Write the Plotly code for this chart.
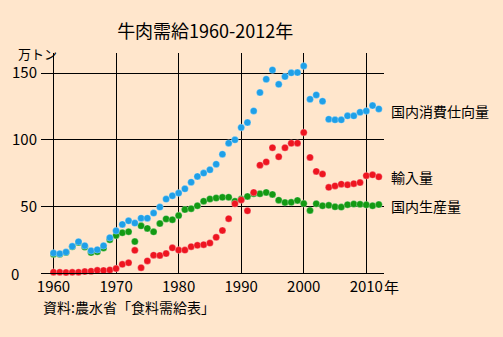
import plotly.graph_objects as go

years = list(range(1960, 2013))

# 国内消費仕向量 (万トン)
consumption = [15.0, 14.5, 15.7, 20.0, 23.5, 20.5, 16.7, 17.5, 20.5, 26.5,
               31.7, 36.5, 39.2, 37.5, 41.2, 41.2, 45.0, 49.5, 55.5, 58.0,
               60.0, 63.2, 68.2, 72.5, 75.0, 77.5, 81.7, 89.2, 97.5, 100.0,
               109.2, 113.0, 121.7, 135.5, 145.5, 152.5, 141.7, 147.5, 150.3, 150.5,
               155.5, 130.5, 133.7, 129.0, 115.5, 115.0, 115.0, 118.0, 118.0, 120.7,
               121.7, 125.7, 123.2]

# 輸入量 (万トン)
imports = [0.6, 0.6, 0.4, 0.5, 0.6, 1.1, 1.4, 2.0, 1.9, 2.3,
           3.3, 6.5, 7.7, 17.0, 4.0, 9.1, 13.4, 13.2, 14.6, 18.9,
           17.2, 17.2, 19.8, 20.8, 21.3, 22.5, 26.8, 31.9, 40.8, 52.0,
           54.9, 46.7, 60.5, 81.0, 83.4, 94.1, 87.3, 94.1, 97.4, 97.5,
           105.5, 86.8, 76.3, 74.3, 64.3, 65.4, 66.7, 66.2, 67.1, 67.9,
           73.1, 73.7, 72.2]

# 国内生産量 (万トン)
production = [14.1, 14.1, 15.3, 19.8, 22.9, 19.6, 15.3, 16.0, 18.8, 25.0,
              28.2, 30.2, 31.0, 23.6, 35.4, 33.5, 30.9, 37.1, 40.6, 40.0,
              43.1, 47.6, 48.3, 50.5, 53.9, 55.6, 56.3, 56.8, 56.9, 53.9,
              55.5, 57.5, 59.6, 59.5, 60.5, 59.0, 54.7, 52.9, 53.1, 54.5,
              52.1, 47.0, 52.0, 50.5, 50.8, 49.7, 49.5, 51.3, 51.8, 51.6,
              51.2, 50.5, 51.4]

series_names = ["国内生産量", "輸入量", "国内消費仕向量"]
x_tick_vals = [1960, 1970, 1980, 1990, 2000, 2010]
x_tick_text = ["1960", "1970", "1980", "1990", "2000", "2010"]
y_tick_vals = [0, 50, 100, 150]
y_tick_text = ["", "50", "100", "150"]

FONT = "Noto Sans CJK JP"
BG = "#FFE6CC"
GREEN = "#139A13"
RED = "#EE1520"
BLUE = "#1FA0E8"

label_yshift = {"国内消費仕向量": -2, "輸入量": 0, "国内生産量": -1}

fig = go.Figure()
for name, vals, col in [(series_names[0], production, GREEN),
                        (series_names[1], imports, RED),
                        (series_names[2], consumption, BLUE)]:
    fig.add_trace(go.Scatter(
        x=years, y=vals, mode="markers", name=name,
        marker=dict(color=col, size=7, line=dict(width=0.8, color="rgba(255,255,255,0.35)")),
        showlegend=False, cliponaxis=False))
    fig.add_annotation(x=years[-1], y=vals[-1], xref="x", yref="y",
                       text=name, showarrow=False, xanchor="left",
                       xshift=10, yshift=label_yshift[name],
                       font=dict(family=FONT, size=14, color="black"))

fig.update_layout(
    width=503, height=337,
    margin=dict(l=38, r=119, t=53, b=64),
    paper_bgcolor=BG, plot_bgcolor=BG,
    title=dict(text="牛肉需給1960-2012年", x=0.408, xanchor="center", y=0.905, yanchor="middle",
               font=dict(family=FONT, size=18, color="black")),
    xaxis=dict(range=[1958.0, 2012.83], tickvals=x_tick_vals, ticktext=x_tick_text,
               showgrid=True, gridcolor="black", gridwidth=1, zeroline=False,
               showline=True, linecolor="black", linewidth=1, ticks="",
               tickfont=dict(family=FONT, size=15, color="black"), fixedrange=True),
    yaxis=dict(range=[0, 165.2], tickvals=y_tick_vals, ticktext=y_tick_text,
               showgrid=True, gridcolor="black", gridwidth=1, zeroline=False,
               showline=False, ticks="", ticklabelstandoff=3,
               tickfont=dict(family=FONT, size=15, color="black"), fixedrange=True),
    showlegend=False,
)

fig.add_annotation(x=0, y=0, xref="paper", yref="y", text="0", showarrow=False,
                   xanchor="right", xshift=-20, font=dict(family=FONT, size=15, color="black"))
fig.add_annotation(x=0, y=1, xref="paper", yref="paper", text="万トン", showarrow=False,
                   xanchor="left", yanchor="middle", xshift=-25, yshift=0,
                   font=dict(family=FONT, size=13, color="black"))
fig.add_annotation(x=2012.5, y=-0.062, xref="x", yref="paper", text="年", showarrow=False,
                   xanchor="left", yanchor="middle", font=dict(family=FONT, size=15, color="black"))
fig.add_annotation(x=0, y=-0.153, xref="paper", yref="paper", text="資料:農水省「食料需給表」",
                   showarrow=False, xanchor="left", yanchor="middle",
                   font=dict(family=FONT, size=14, color="black"))

fig.write_html("out.html")
